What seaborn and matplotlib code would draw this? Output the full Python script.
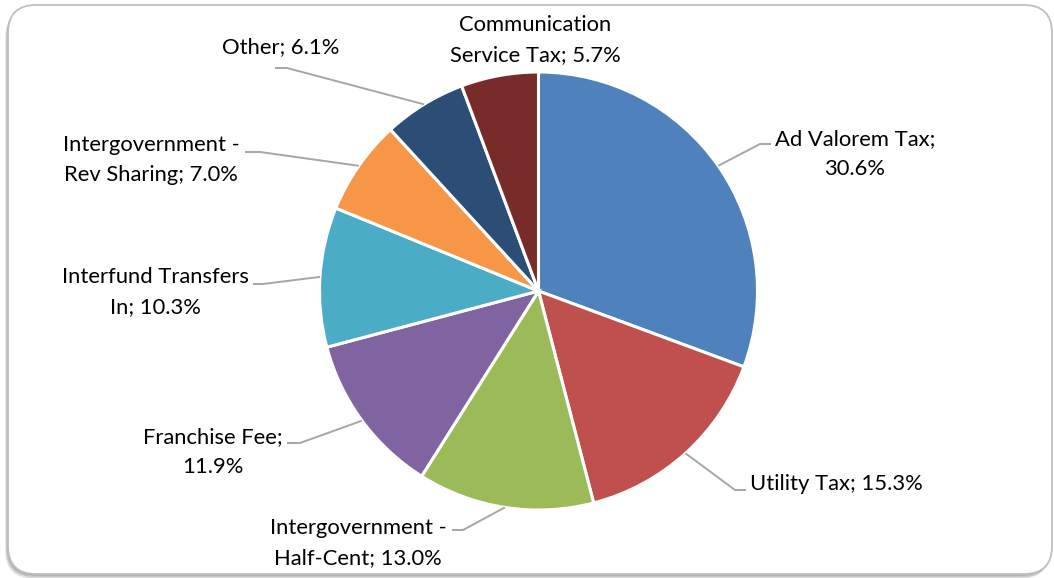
import numpy as np
import matplotlib
matplotlib.use("Agg")
import matplotlib.pyplot as plt
import seaborn as sns
from matplotlib.patches import FancyBboxPatch

# Revenue sources and their share of the total (%)
categories = [
    "Ad Valorem Tax",
    "Utility Tax",
    "Intergovernment -\nHalf-Cent",
    "Franchise Fee",
    "Interfund Transfers\nIn",
    "Intergovernment -\nRev Sharing",
    "Other",
    "Communication\nService Tax",
]
shares = [30.6, 15.3, 13.0, 11.9, 10.3, 7.0, 6.1, 5.7]
# separator between name and value in each label
label_seps = [";\n", "; ", "; ", ";\n", "; ", "; ", "; ", "; "]
colors = ["#4F81BD", "#C0504D", "#9BBB59", "#8064A2",
          "#4BACC6", "#F79646", "#2C4D75", "#772C2A"]

# Layout (pixel coordinates, origin top-left)
W, H = 1054, 578
center_px = (538.5, 291)
radius_px = 219
label_xy = [(855, 154), (836, 484), (358, 543), (213, 452),
            (155, 292), (151, 160), (281, 47), (535, 40)]
elbow_xy = [(760, 144), (735, 490), (463, 530), (300, 443),
            (263, 284), (260, 152), (287, 68), None]
tail_xy = [(771, 144), (746, 490), (452, 530), (287, 443),
           (253, 284), (245, 152), (275, 68), None]

sns.set_theme(style="white")
plt.rcParams["font.family"] = ["Lato", "DejaVu Sans"]

fig = plt.figure(figsize=(W / 100, H / 100), dpi=100)
ax = fig.add_axes([0, 0, 1, 1])
ax.set_xlim(0, W)
ax.set_ylim(0, H)
ax.set_aspect("equal")
ax.axis("off")


def up(p):
    return (p[0], H - p[1])


# chart frame with soft shadow
for off, alpha in [(4.5, 0.25), (3.0, 0.35), (1.5, 0.45)]:
    sh = FancyBboxPatch((8 - off * 0.6, H - 574 - off), 1044, 569,
                        boxstyle="round,pad=0,rounding_size=28",
                        facecolor="#8c8c8c", edgecolor="none", alpha=alpha,
                        zorder=0)
    ax.add_patch(sh)
frame = FancyBboxPatch((8, H - 574), 1044, 569,
                       boxstyle="round,pad=0,rounding_size=28",
                       facecolor="white", edgecolor="#bfbfbf", linewidth=1.3,
                       zorder=1)
ax.add_patch(frame)

cx, cy = up(center_px)
wedges, _ = ax.pie(
    shares, colors=colors, startangle=90, counterclock=False,
    center=(cx, cy), radius=radius_px, frame=True,
    wedgeprops=dict(edgecolor="white", linewidth=2.2),
)
for w in wedges:
    w.set_zorder(3)
ax.set_xlim(0, W)
ax.set_ylim(0, H)
ax.axis("off")

for i, w in enumerate(wedges):
    text = f"{categories[i]}{label_seps[i]}{shares[i]:.1f}%"
    ax.text(*up(label_xy[i]), text, ha="center", va="center",
            fontsize=15.8, color="black", linespacing=1.6, zorder=5)
    if elbow_xy[i] is not None:
        mid = np.deg2rad((w.theta1 + w.theta2) / 2)
        ex = cx + radius_px * np.cos(mid)
        ey = cy + radius_px * np.sin(mid)
        bx, by = up(elbow_xy[i])
        tx, ty = up(tail_xy[i])
        ax.plot([ex, bx, tx], [ey, by, ty], color="#a6a6a6", lw=1.4,
                solid_capstyle="butt", zorder=4)

fig.savefig("out.png", dpi=100)
